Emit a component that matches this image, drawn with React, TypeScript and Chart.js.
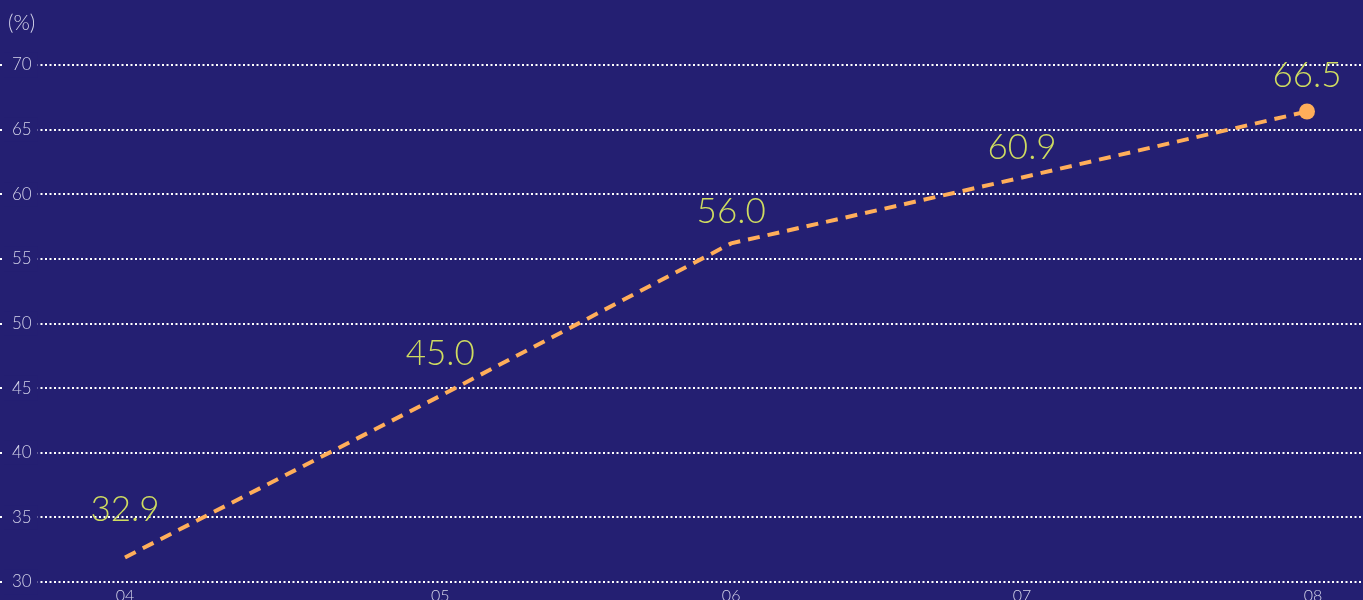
import React, { useEffect, useRef } from "react";
import { Chart, registerables } from "chart.js";

Chart.register(...registerables);

// Periods (x in months from the first tick) and their tick labels
const tickLabels = ["04", "05", "06", "07", "08"];
const xPositions = [0, 13, 25, 37, 49];
// Line values as drawn
const pointXs = [0, 13, 25, 37, 48.75];
const lineValues = [31.9, 44.4, 56.2, 61.3, 66.4];
// Printed value labels
const valueLabels = [32.9, 45.0, 56.0, 60.9, 66.5];
const yTicks = [30, 35, 40, 45, 50, 55, 60, 65, 70];

const BG = "#241f72";
const LINE = "#ffae5a";
const LABEL = "#cfdc60";
const TICK = "#d4d4ea";

const zeroPadding = (s: any) => {
  s.paddingLeft = 0;
  s.paddingRight = 0;
  s.paddingTop = 0;
  s.paddingBottom = 0;
};

const overlayPlugin = {
  id: "overlay",
  afterDatasetsDraw(chart: any) {
    const ctx = chart.ctx;
    const meta = chart.getDatasetMeta(0);
    const yScale = chart.scales.y;
    ctx.save();
    ctx.fillStyle = LABEL;
    ctx.font = "300 35px Lato";
    ctx.textAlign = "center";
    ctx.textBaseline = "alphabetic";
    meta.data.forEach((pt: any, i: number) => {
      const y = yScale.getPixelForValue(valueLabels[i]);
      ctx.fillText(valueLabels[i].toFixed(1), pt.x, y - 36 + 12.6);
    });
    ctx.fillStyle = TICK;
    ctx.font = "300 21px Lato";
    ctx.textAlign = "left";
    ctx.textBaseline = "middle";
    ctx.fillText("(%)", 8, 23);
    ctx.restore();
  },
};

export default function App() {
  const ref = useRef<HTMLCanvasElement | null>(null);

  useEffect(() => {
    document.body.style.margin = "0";
    const canvas = ref.current;
    if (!canvas) return;
    const chart = new Chart(canvas, {
      type: "line",
      data: {
        datasets: [
          {
            data: pointXs.map((x, i) => ({ x, y: lineValues[i] })),
            borderColor: LINE,
            borderWidth: 4,
            borderDash: [12, 8],
            borderCapStyle: "butt",
            tension: 0,
            fill: false,
            clip: false,
            pointRadius: (c: any) => (c.dataIndex === lineValues.length - 1 ? 8 : 0),
            pointBackgroundColor: LINE,
            pointBorderWidth: 0,
            pointHoverRadius: 8,
          },
        ],
      },
      options: {
        animation: false,
        responsive: true,
        maintainAspectRatio: false,
        layout: { autoPadding: false, padding: { top: 65, left: 0, right: 0, bottom: 0 } },
        plugins: {
          legend: { display: false },
          title: { display: false },
          tooltip: { enabled: false },
        },
        scales: {
          x: {
            type: "linear",
            position: "bottom",
            min: -5.155,
            max: 51.06,
            grid: { display: false },
            border: { display: false },
            ticks: {
              color: TICK,
              font: { family: "Lato", size: 16, weight: "300" },
              padding: -4,
              autoSkip: false,
              maxRotation: 0,
              callback: (_v: any, i: number) => tickLabels[i],
            },
            afterBuildTicks: (s: any) => {
              s.ticks = xPositions.map((v) => ({ value: v }));
            },
            afterFit: (s: any) => {
              s.height = 18;
              zeroPadding(s);
            },
          },
          y: {
            position: "left",
            min: 30,
            max: 70,
            grid: { color: "#ffffff", lineWidth: 2, drawTicks: false },
            border: { display: false, dash: [2, 2.5] },
            ticks: {
              mirror: true,
              padding: 12,
              color: TICK,
              font: { family: "Lato", size: 17, weight: "300" },
              showLabelBackdrop: true,
              backdropColor: BG,
              backdropPadding: { left: 8, right: 6, top: 2, bottom: 2 },
            },
            afterBuildTicks: (s: any) => {
              s.ticks = yTicks.map((v) => ({ value: v }));
            },
            afterFit: (s: any) => {
              s.width = 0;
              zeroPadding(s);
            },
          },
        },
      } as any,
      plugins: [overlayPlugin],
    });
    return () => chart.destroy();
  }, []);

  return (
    <div style={{ width: 1363, height: 600, background: BG, position: "relative" }}>
      <canvas ref={ref} style={{ display: "block" }} />
    </div>
  );
}
